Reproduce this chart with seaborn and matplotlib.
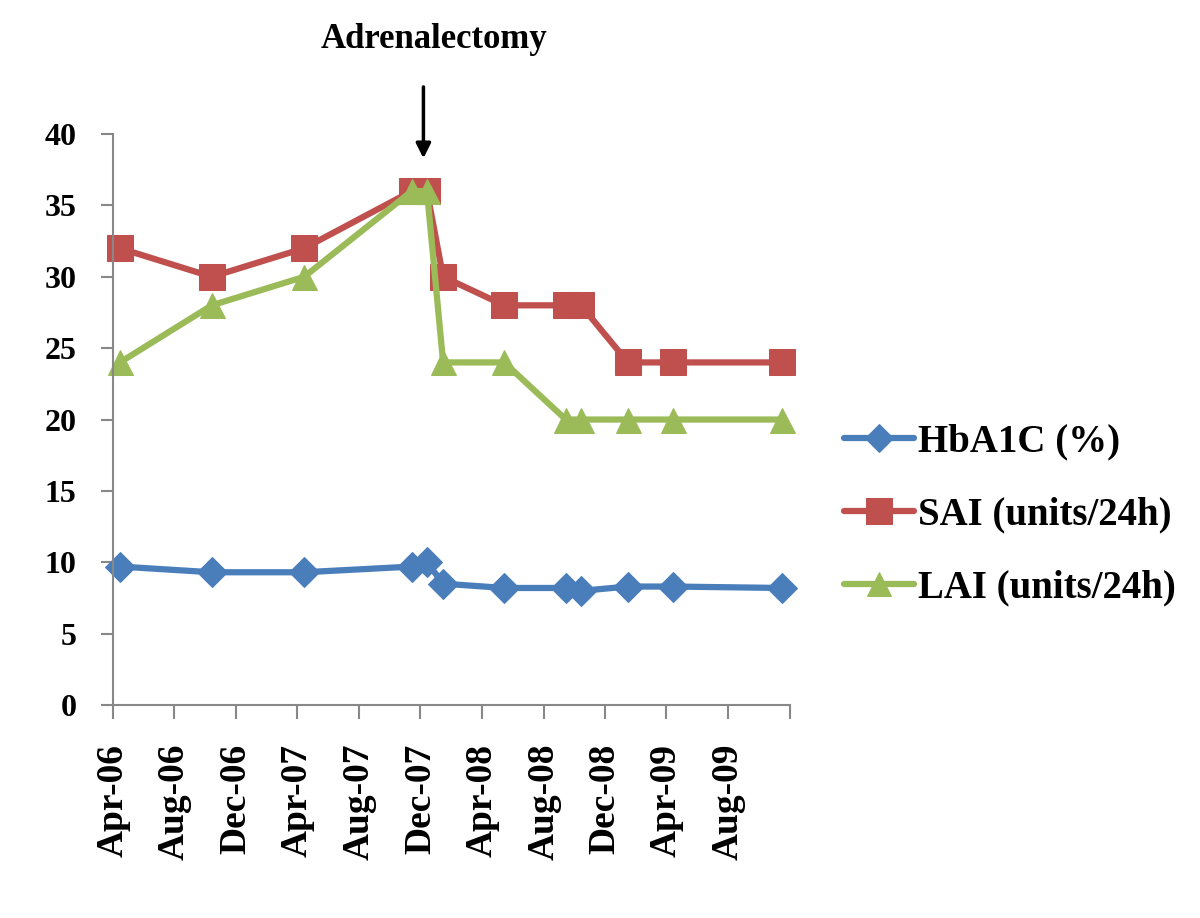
import matplotlib
matplotlib.use("Agg")
import matplotlib.pyplot as plt
import numpy as np
import pandas as pd
import seaborn as sns

# visit dates (mid-month)
dates = pd.to_datetime([
    "2006-04-15", "2006-10-14", "2007-04-15", "2007-11-14", "2007-12-14",
    "2008-01-15", "2008-05-15", "2008-09-14", "2008-10-14", "2009-01-15",
    "2009-04-15", "2009-11-15",
])
hba1c = [9.7, 9.3, 9.3, 9.7, 10.0, 8.5, 8.2, 8.2, 8.0, 8.3, 8.3, 8.2]
sai = [32, 30, 32, 36, 36, 30, 28, 28, 28, 24, 24, 24]
lai = [24, 28, 30, 36, 36, 24, 24, 20, 20, 20, 20, 20]

labels = ["HbA1C (%)", "SAI (units/24h)", "LAI (units/24h)"]
colors = ["#4A7EBB", "#C0504D", "#9BBB59"]
markers = ["D", "s", "^"]
msizes = [15, 19, 18]

sns.set_style("white")
plt.rcParams["font.family"] = ["Liberation Serif", "DejaVu Serif"]
plt.rcParams["font.weight"] = "bold"
plt.rcParams["text.color"] = "black"
plt.rcParams["xtick.labelcolor"] = "black"
plt.rcParams["ytick.labelcolor"] = "black"

fig = plt.figure(figsize=(12, 9.18), dpi=100)
ax = fig.add_axes([0.094, 0.232, 0.564, 0.622])

for vals, lab, c, m, ms in zip([hba1c, sai, lai], labels, colors, markers, msizes):
    sns.lineplot(x=dates, y=vals, ax=ax, color=c, marker=m, markersize=ms,
                 markeredgecolor=c, linewidth=4.5, label=lab, clip_on=False)

ax.set_ylim(0, 40)
ax.set_yticks(np.arange(0, 41, 5))
ticks = pd.date_range("2006-04-01", "2009-12-01", freq="4MS")
ax.set_xlim(ticks[0], ticks[-1])
ax.set_xticks(ticks)
ax.set_xticklabels([d.strftime("%b-%y") for d in ticks[:-1]] + [""])
ax.set_xlabel("")
ax.set_ylabel("")

for s in ["top", "right"]:
    ax.spines[s].set_visible(False)
for s in ["left", "bottom"]:
    ax.spines[s].set_color("#888888")
    ax.spines[s].set_linewidth(1.5)

ax.tick_params(axis="y", direction="out", length=9, width=1.5, color="#888888",
               labelsize=23, pad=17, left=True)
ax.tick_params(axis="x", direction="out", length=10, width=1.5, color="#888888",
               labelsize=27, pad=18, bottom=True, labelrotation=90)
for t in ax.get_xticklabels() + ax.get_yticklabels():
    t.set_fontweight("bold")

# surgery marker
op = pd.Timestamp("2007-12-07")
ax.annotate("", xy=(op, 38.3), xytext=(op, 43.3), annotation_clip=False,
            arrowprops=dict(arrowstyle="-|>", color="black", lw=2.5,
                            mutation_scale=22, shrinkA=0, shrinkB=0))
ax.text(pd.Timestamp("2007-12-28"), 46.6, "Adrenalectomy", ha="center",
        va="center", fontsize=25, fontweight="bold", clip_on=False)

h, l = ax.get_legend_handles_labels()
ax.get_legend().remove()
fig.legend(h, l, loc="center left", bbox_to_anchor=(0.674, 0.439), frameon=False,
           handlelength=1.8, labelspacing=0.92, handletextpad=0.1,
           markerscale=0.95, prop={"weight": "bold", "size": 28})

fig.savefig("out.png", dpi=100, facecolor="white")
